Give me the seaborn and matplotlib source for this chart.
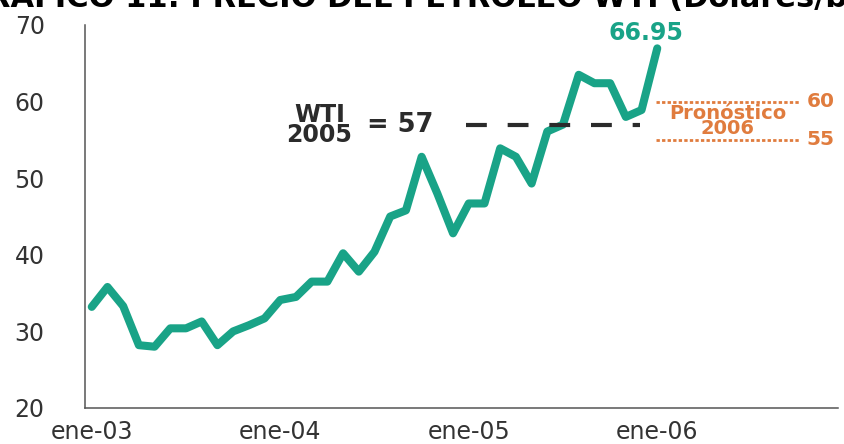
import matplotlib.pyplot as plt
import pandas as pd
import seaborn as sns

# monthly WTI average, ene-03 .. ene-06 (USD/barril)
wti_2003 = [33.2, 35.8, 33.3, 28.2, 28.0, 30.4, 30.4, 31.3, 28.2, 30.0, 30.8, 31.7]
wti_2004 = [34.1, 34.5, 36.5, 36.5, 40.2, 37.8, 40.4, 45.0, 45.8, 52.8, 48.0, 42.8]
wti_2005 = [46.7, 46.7, 53.9, 52.8, 49.3, 56.1, 57.0, 63.5, 62.4, 62.4, 58.0, 58.9]
wti_2006 = [66.95]

tick_labels = ["ene-03", "ene-04", "ene-05", "ene-06"]
wti_avg_2005 = 57
forecast_low, forecast_high = 55, 60

prices = wti_2003 + wti_2004 + wti_2005 + wti_2006
df = pd.DataFrame({"mes": range(len(prices)), "precio": prices})

teal = "#19a387"
orange = "#e07c3e"
dark = "#2b2b2b"

sns.set_style("white")
plt.rcParams["font.family"] = ["DejaVu Sans"]

fig = plt.figure(figsize=(8.45, 4.44), dpi=100)
ax = fig.add_axes([0.1006, 0.0811, 0.891, 0.8626])

sns.lineplot(data=df, x="mes", y="precio", color=teal, linewidth=5.8, ax=ax)

# WTI 2005 average
ax.plot([23.8, 34.9], [wti_avg_2005] * 2, color=dark, linewidth=3, dashes=(5, 5))
ax.text(14.5, wti_avg_2005 - 0.1, "WTI\n2005", ha="center", va="center", fontsize=17,
        fontweight="bold", color=dark, linespacing=0.8)
ax.text(17.5, wti_avg_2005, f"= {wti_avg_2005}", ha="left", va="center", fontsize=18.5,
        fontweight="bold", color=dark)

# forecast range 2006
for v in (forecast_low, forecast_high):
    ax.plot([35.9, 45.1], [v, v], color=orange, linewidth=2, dashes=(1.2, 0.8))
    ax.text(45.5, v, str(v), ha="left", va="center", fontsize=14.5,
            fontweight="bold", color=orange)
ax.text(40.5, 57.5, "Pronóstico\n2006", ha="center", va="center", fontsize=14,
        fontweight="bold", color=orange, linespacing=0.75)

ax.text(35.3, prices[-1] + 0.4, f"{prices[-1]:.2f}", ha="center", va="bottom",
        fontsize=17, fontweight="bold", color=teal)

ax.set_xlim(-0.43, 47.5)
ax.set_ylim(20, 70)
ax.set_xticks([0, 12, 24, 36])
ax.set_xticklabels(tick_labels)
ax.set_yticks(range(20, 71, 10))
ax.tick_params(axis="both", length=0, labelsize=17, labelcolor="#333333")
ax.tick_params(axis="x", pad=9)
ax.tick_params(axis="y", pad=29)
ax.set_xlabel("")
ax.set_ylabel("")
sns.despine(ax=ax)
for side in ("left", "bottom"):
    ax.spines[side].set_color("#555555")
    ax.spines[side].set_linewidth(1.1)

# chart title, cut off at the top edge in the original
fig.text(-0.045, 0.985, "GRÁFICO 11: PRECIO DEL PETRÓLEO WTI (Dólares/barril)",
         ha="left", va="baseline", fontsize=22, fontweight="bold", color="black")

fig.savefig("out.png", dpi=100)
